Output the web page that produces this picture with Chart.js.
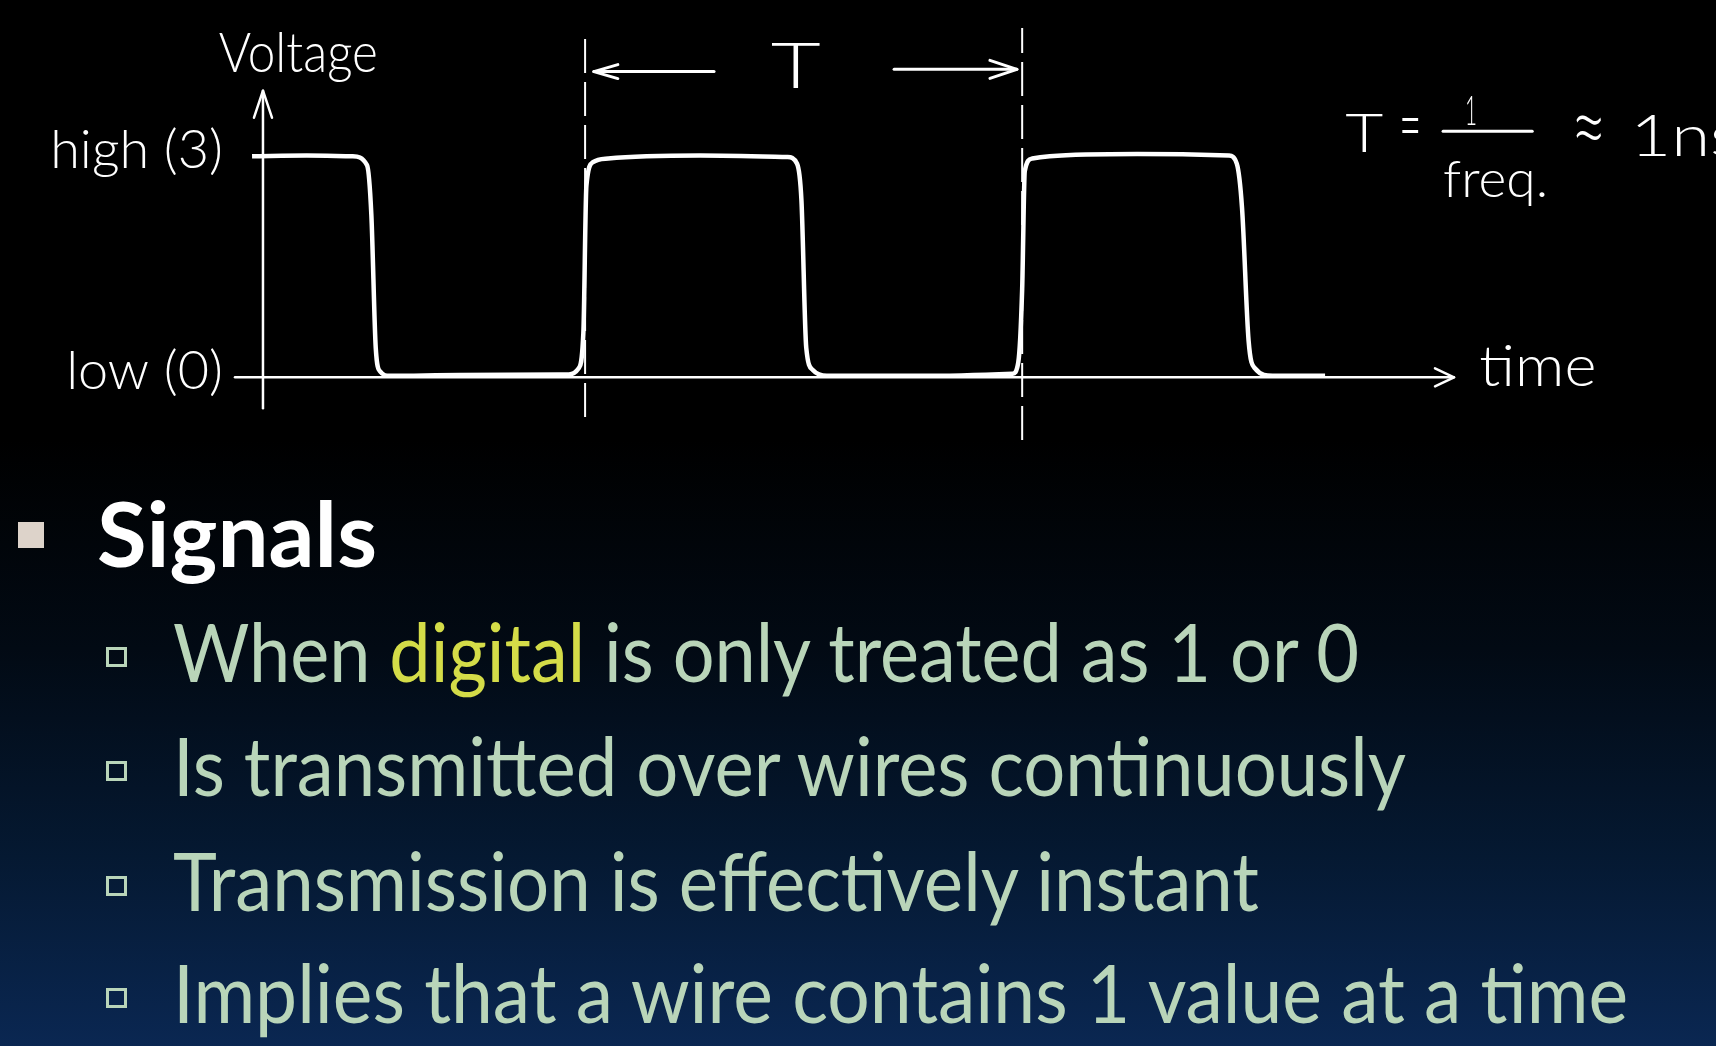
<!DOCTYPE html>
<html>
<head>
<meta charset="utf-8">
<script src="https://cdn.jsdelivr.net/npm/chart.js@4.4.1/dist/chart.umd.min.js"></script>
<style>
  html, body { margin: 0; padding: 0; }
  body {
    width: 1716px; height: 1046px; overflow: hidden; position: relative;
    background: linear-gradient(to bottom, #000 0%, #000 42%, #020a14 62%, #051932 82%, #0a2752 100%);
  }
  #waveBox { position: absolute; left: 0; top: 0; width: 1716px; height: 451px; }
  .txt { position: absolute; white-space: nowrap; transform-origin: 0 0; font-family: Lato, sans-serif; }
  .head { left: 97px; top: 488px; font-size: 89px; line-height: 89px; font-weight: 700; color: #fff; }
  .sub { left: 173px; font-size: 82px; line-height: 82px; color: #b9d5b9; }
  .hl { color: #d4dc48; }
  .big-bullet { position: absolute; left: 18px; top: 522px; width: 26px; height: 26px; background: #ddd3ca; }
  .bullet { position: absolute; left: 106px; width: 21px; height: 20px; box-sizing: border-box; border: 3px solid #b9d5b9; }
</style>
</head>
<body>
<div id="waveBox"><canvas id="wave"></canvas></div>

<div class="big-bullet"></div>
<div class="txt head" data-w="280">Signals</div>

<div class="bullet" style="top:647px"></div>
<div class="txt sub" style="top:609px" data-w="1186">When <span class="hl">digital</span> is only treated as 1 or 0</div>
<div class="bullet" style="top:761px"></div>
<div class="txt sub" style="top:723px" data-w="1233">Is transmitted over wires continuously</div>
<div class="bullet" style="top:876px"></div>
<div class="txt sub" style="top:838px" data-w="1086">Transmission is effectively instant</div>
<div class="bullet" style="top:988px"></div>
<div class="txt sub" style="top:950px" data-w="1455">Implies that a wire contains 1 value at a time</div>

<script>
// sketched square wave, time in ns (one period = 1 ns), voltage 0..3
const waveTime = [-0.025, 0.10, 0.205, 0.238, 0.248, 0.258, 0.268, 0.29,
  0.45, 0.70, 0.722, 0.733, 0.740, 0.755, 0.79,
  1.00, 1.20, 1.222, 1.232, 1.243, 1.258, 1.29,
  1.50, 1.715, 1.728, 1.737, 1.743, 1.76, 1.80,
  2.00, 2.21, 2.228, 2.240, 2.255, 2.27, 2.31, 2.43];
const waveVolts = [3.00, 3.01, 3.00, 2.88, 2.2, 0.4, 0.08, 0.02,
  0.03, 0.04, 0.12, 0.6, 2.6, 2.92, 2.97,
  3.01, 2.99, 2.9, 2.4, 0.4, 0.1, 0.02,
  0.02, 0.05, 0.2, 1.2, 2.8, 2.97, 3.00,
  3.03, 3.01, 2.9, 2.3, 0.5, 0.12, 0.02, 0.02];

// dashed markers for the period T
const periodMarkTime = [0.737, 1.737];
const periodMarkTop = [4.67, 4.74];
const periodMarkBottom = [-0.54, -0.85];

const yTickValues = [0, 3];
const yTickLabels = ['low (0)', 'high (3)'];

const hand = size => '300 ' + size + 'px Lato, sans-serif';

function fitText(ctx, text, x, y, w, font) {
  ctx.font = font;
  const m = ctx.measureText(text).width;
  ctx.save();
  ctx.translate(x, y);
  ctx.scale(w / m, 1);
  ctx.fillText(text, 0, 0);
  ctx.restore();
}

function arrowHead(ctx, x, y, dir, len, spread) {
  ctx.beginPath();
  if (dir === 'right' || dir === 'left') {
    const s = dir === 'right' ? -1 : 1;
    ctx.moveTo(x + s * len, y - spread); ctx.lineTo(x, y); ctx.lineTo(x + s * len, y + spread);
  } else {
    ctx.moveTo(x - spread, y + len); ctx.lineTo(x, y); ctx.lineTo(x + spread, y + len);
  }
  ctx.stroke();
}

function seg(ctx, x1, y1, x2, y2) {
  ctx.beginPath(); ctx.moveTo(x1, y1); ctx.lineTo(x2, y2); ctx.stroke();
}

const sketch = {
  id: 'sketch',
  afterDatasetsDraw(chart) {
    const ctx = chart.ctx;
    const sx = chart.scales.x, sy = chart.scales.y;
    const px = t => sx.getPixelForValue(t), py = v => sy.getPixelForValue(v);
    ctx.save();
    ctx.strokeStyle = '#fff';
    ctx.fillStyle = '#fff';
    ctx.lineCap = 'round';
    ctx.lineJoin = 'round';

    // axes
    ctx.lineWidth = 2.5;
    seg(ctx, sx.left, py(0), sx.right, py(0));
    arrowHead(ctx, sx.right, py(0), 'right', 19, 9);
    seg(ctx, px(0), py(-0.42), px(0), py(3.89));
    arrowHead(ctx, px(0), py(3.89), 'up', 27, 9);

    // T arrows between the dashed markers
    ctx.lineWidth = 3;
    seg(ctx, px(0.757), py(4.15), px(1.032), py(4.15));
    arrowHead(ctx, px(0.757), py(4.15), 'left', 24, 7);
    seg(ctx, px(1.444), py(4.18), px(1.725), py(4.18));
    arrowHead(ctx, px(1.725), py(4.18), 'right', 27, 9);

    // handwritten labels
    ctx.textBaseline = 'alphabetic';
    fitText(ctx, 'Voltage', px(-0.101), py(4.14), 159, hand(56));
    fitText(ctx, 'T', px(1.162), py(3.925), 50, hand(64));
    fitText(ctx, 'time', px(2.783), py(-0.118), 117, hand(58));

    fitText(ctx, 'T', px(2.476), py(3.057), 38, hand(54));
    fitText(ctx, '=', px(2.600), py(3.06), 22, hand(78));
    fitText(ctx, '1', px(2.750), py(3.43), 12, hand(42));
    ctx.lineWidth = 3;
    seg(ctx, px(2.700), py(3.34), px(2.904), py(3.34));
    fitText(ctx, 'freq.', px(2.700), py(2.446), 105, hand(52));
    fitText(ctx, '≈', px(2.991), py(2.95), 37, hand(96));
    fitText(ctx, '1ns', px(3.128), py(3.0), 110, hand(58));
    ctx.restore();
  }
};

const markSets = periodMarkTime.map((t, i) => ({
  data: [{ x: t, y: periodMarkBottom[i] }, { x: t, y: periodMarkTop[i] }],
  borderColor: '#fff',
  borderWidth: 2,
  borderDash: [34, 9],
  pointRadius: 0
}));

new Chart(document.getElementById('wave'), {
  type: 'line',
  data: {
    datasets: [{
      data: waveTime.map((t, i) => ({ x: t, y: waveVolts[i] })),
      borderColor: '#fff',
      borderWidth: 4.5,
      cubicInterpolationMode: 'monotone',
      pointRadius: 0
    }, ...markSets]
  },
  options: {
    responsive: true,
    maintainAspectRatio: false,
    animation: false,
    layout: { padding: { top: 20, right: 262, bottom: 0, left: 0 } },
    plugins: { legend: { display: false }, tooltip: { enabled: false } },
    scales: {
      x: { type: 'linear', min: -0.064, max: 2.725, display: false },
      y: {
        type: 'linear', min: -1, max: 4.85,
        grid: { display: false },
        border: { display: false },
        afterFit: s => { s.width = 235; s.paddingTop = 0; s.paddingBottom = 0; },
        afterBuildTicks: s => { s.ticks = yTickValues.map(v => ({ value: v })); },
        ticks: {
          padding: 4,
          labelOffset: -6,
          color: '#fff',
          font: { family: 'Lato', weight: '300', size: 54 },
          callback: v => yTickLabels[yTickValues.indexOf(v)]
        }
      }
    }
  },
  plugins: [sketch]
});

// stretch bullet lines to the slide's line widths
document.fonts.ready.then(() => {
  document.querySelectorAll('.txt').forEach(el => {
    el.style.transform = 'none';
    const w = el.getBoundingClientRect().width;
    el.style.transform = 'scaleX(' + (el.dataset.w / w) + ')';
  });
});
</script>
</body>
</html>
